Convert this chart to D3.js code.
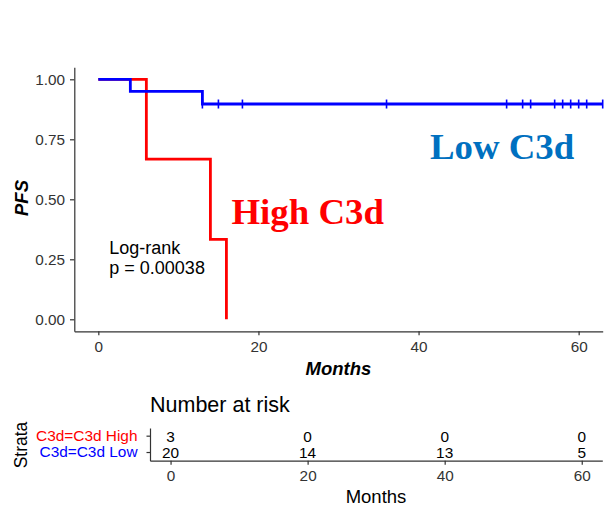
<!DOCTYPE html>
<head>
  <meta charset="utf-8">
  <script src="https://d3js.org/d3.v7.min.js"></script>
  <style>
    body { margin:0; background:white; }
    svg { background: white; font-family: "Liberation Sans", Arial, sans-serif; }
    .axis path, .axis line { stroke: #333; stroke-width: 1.2; }
    .axis text { fill: #333; }
  </style>
</head>

<body>
  <script>
    var width = 613;
    var height = 510;

    // data
    var xTicks = [0, 20, 40, 60];
    var yTicks = [0, 0.25, 0.5, 0.75, 1];

    var highTimes = [0, 6, 14, 16];
    var highSurv = [1, 0.667, 0.333, 0];

    var lowTimes = [0, 4, 13, 63];
    var lowSurv = [1, 0.95, 0.897, 0.897];
    var lowCensor = [13, 15, 18, 36, 51, 53, 54, 57, 58, 59, 60, 61, 63];

    var strata = ["C3d=C3d High", "C3d=C3d Low"];
    var strataColors = ["#ff0000", "#0000ff"];
    var riskHigh = [3, 0, 0, 0];
    var riskLow = [20, 14, 13, 5];

    var svg = d3.select("body").append("svg")
      .attr("width", width)
      .attr("height", height);

    // main plot scales
    var x = d3.scaleLinear().domain([-3, 63]).range([74.3, 602.7]);
    var y = d3.scaleLinear().domain([-0.05, 1.05]).range([331.3, 67.3]);

    svg.append("g")
      .attr("class", "axis")
      .attr("transform", "translate(0,331.3)")
      .call(d3.axisBottom(x).tickValues(xTicks).tickSize(4).tickSizeOuter(0).tickPadding(6))
      .selectAll("text").style("font-size", "15.3px");

    svg.append("g")
      .attr("class", "axis")
      .attr("transform", "translate(74.3,0)")
      .call(d3.axisLeft(y).tickValues(yTicks).tickFormat(d3.format(".2f")).tickSize(4.3).tickSizeOuter(0).tickPadding(5))
      .selectAll("text").style("font-size", "15.3px");

    svg.append("text")
      .attr("x", 338.5).attr("y", 375)
      .attr("text-anchor", "middle")
      .style("font-size", "18.5px").style("font-weight", "bold").style("font-style", "italic")
      .text("Months");

    svg.append("text")
      .attr("transform", "translate(28.3,198) rotate(-90)")
      .attr("text-anchor", "middle")
      .style("font-size", "18.5px").style("font-weight", "bold").style("font-style", "italic")
      .text("PFS");

    var step = d3.line()
      .x(function(d) { return x(d[0]); })
      .y(function(d) { return y(d[1]); })
      .curve(d3.curveStepAfter);

    svg.append("path")
      .attr("d", step(d3.zip(highTimes, highSurv)))
      .attr("fill", "none")
      .attr("stroke", "#ff0000")
      .attr("stroke-width", 2.8);

    svg.append("path")
      .attr("d", step(d3.zip(lowTimes, lowSurv)))
      .attr("fill", "none")
      .attr("stroke", "#0000ff")
      .attr("stroke-width", 2.8);

    // censor marks, on the last level reached
    function survAt(t) {
      var s = 1;
      for (var i = 0; i < lowTimes.length; i++) {
        if (lowTimes[i] <= t) s = lowSurv[i];
      }
      return s;
    }

    svg.selectAll(".censor")
      .data(lowCensor)
      .enter()
      .append("line")
      .attr("class", "censor")
      .attr("x1", function(d) { return x(d); })
      .attr("x2", function(d) { return x(d); })
      .attr("y1", function(d) { return y(survAt(d)) - 4.5; })
      .attr("y2", function(d) { return y(survAt(d)) + 4.5; })
      .attr("stroke", "#0000ff")
      .attr("stroke-width", 1.6);

    svg.append("text")
      .attr("x", 109.3).attr("y", 253.5)
      .style("font-size", "18px")
      .text("Log-rank");
    svg.append("text")
      .attr("x", 109.3).attr("y", 274)
      .style("font-size", "18px")
      .text("p = 0.00038");

    svg.append("text")
      .attr("x", 231.5).attr("y", 223.5)
      .style("font-family", "'Liberation Serif', 'Times New Roman', serif")
      .style("font-size", "36.8px").style("font-weight", "bold")
      .attr("fill", "#ff0000")
      .text("High C3d");

    svg.append("text")
      .attr("x", 430).attr("y", 159.3)
      .style("font-family", "'Liberation Serif', 'Times New Roman', serif")
      .style("font-size", "36.8px").style("font-weight", "bold")
      .attr("fill", "#0070c0")
      .text("Low C3d");

    // number at risk table
    var rx = d3.scaleLinear().domain([-3, 63]).range([150, 602.3]);
    var ry = d3.scaleBand().domain(strata).range([428, 460.7]);

    svg.append("text")
      .attr("x", 150).attr("y", 411.7)
      .style("font-size", "21.5px")
      .text("Number at risk");

    svg.append("g")
      .attr("class", "axis")
      .attr("transform", "translate(0,460.7)")
      .call(d3.axisBottom(rx).tickValues(xTicks).tickSize(4).tickSizeOuter(0).tickPadding(5.5))
      .selectAll("text").style("font-size", "15.3px");

    var ly = svg.append("g")
      .attr("class", "axis")
      .attr("transform", "translate(150,0)")
      .call(d3.axisLeft(ry).tickSize(3.5).tickSizeOuter(0).tickPadding(9));
    ly.selectAll("text")
      .style("font-size", "15.4px")
      .style("fill", function(d, i) { return strataColors[i]; });

    var riskRows = [riskHigh, riskLow];
    strata.forEach(function(s, j) {
      svg.selectAll(".risk" + j)
        .data(riskRows[j])
        .enter()
        .append("text")
        .attr("class", "risk" + j)
        .attr("x", function(d, i) { return rx(xTicks[i]); })
        .attr("y", ry(s) + ry.bandwidth() / 2)
        .attr("dy", "0.36em")
        .attr("text-anchor", "middle")
        .style("font-size", "15.4px")
        .text(function(d) { return d; });
    });

    svg.append("text")
      .attr("x", 376).attr("y", 503.3)
      .attr("text-anchor", "middle")
      .style("font-size", "18.5px")
      .text("Months");

    svg.append("text")
      .attr("transform", "translate(26.7,445) rotate(-90)")
      .attr("text-anchor", "middle")
      .style("font-size", "17.5px")
      .text("Strata");
  </script>
</body>
